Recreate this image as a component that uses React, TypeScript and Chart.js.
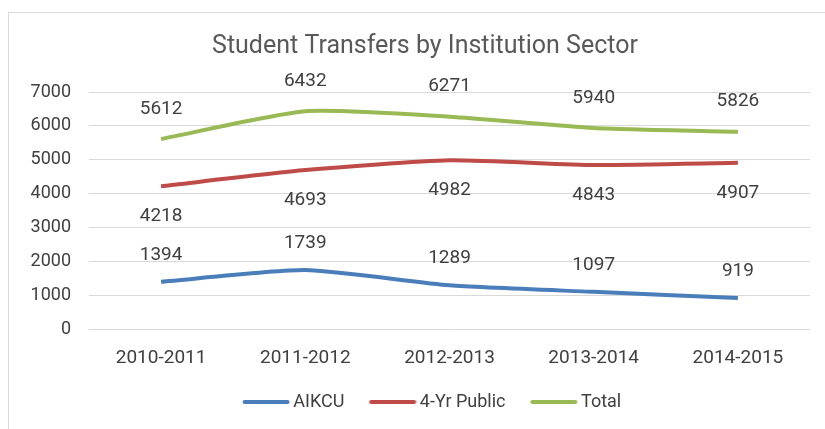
import React, { useEffect, useRef } from "react";
import { Chart, registerables } from "chart.js";

Chart.register(...registerables);

const categories = ["2010-2011", "2011-2012", "2012-2013", "2013-2014", "2014-2015"];
const aikcu = [1394, 1739, 1289, 1097, 919];
const fourYrPublic = [4218, 4693, 4982, 4843, 4907];
const total = [5612, 6432, 6271, 5940, 5826];
const seriesNames = ["AIKCU", "4-Yr Public", "Total"];
const seriesColors = ["#4A7EBB", "#BE4B48", "#98B954"];
const chartTitle = "Student Transfers by Institution Sector";

const FONT = "Roboto, 'Liberation Sans', sans-serif";
const TEXT = "#404040";

function legendLine(color: string) {
  const c = document.createElement("canvas");
  c.width = 67;
  c.height = 6;
  const g = c.getContext("2d")!;
  g.strokeStyle = color;
  g.lineWidth = 4;
  g.lineCap = "round";
  g.beginPath();
  g.moveTo(21.5, 3);
  g.lineTo(64.5, 3);
  g.stroke();
  return c;
}

const labelPlugin = {
  id: "valueLabels",
  afterDatasetsDraw(chart: any) {
    const ctx = chart.ctx;
    ctx.save();
    ctx.font = `19px ${FONT}`;
    ctx.fillStyle = TEXT;
    ctx.textAlign = "center";
    ctx.textBaseline = "middle";
    const offsets = [-27, 30, -30];
    chart.data.datasets.forEach((ds: any, i: number) => {
      const meta = chart.getDatasetMeta(i);
      meta.data.forEach((pt: any, j: number) => {
        ctx.fillText(String(ds.data[j]), pt.x, pt.y + offsets[i]);
      });
    });
    ctx.restore();
  },
};

export default function App() {
  const ref = useRef<HTMLCanvasElement>(null);
  useEffect(() => {
    document.body.style.margin = "0";
    const images = seriesColors.map(legendLine);
    const series = [aikcu, fourYrPublic, total];
    const chart = new Chart(ref.current!, {
      type: "line",
      data: {
        labels: categories,
        datasets: series.map((data, i) => ({
          label: seriesNames[i],
          data,
          borderColor: seriesColors[i],
          backgroundColor: seriesColors[i],
          borderWidth: 4,
          pointRadius: 0,
          tension: 0.2,
          fill: false,
        })),
      },
      options: {
        animation: false,
        responsive: false,
        maintainAspectRatio: false,
        layout: { padding: { left: 0, right: 0, top: 0, bottom: 8 } },
        plugins: {
          title: {
            display: true,
            text: chartTitle,
            color: "#595959",
            font: { family: FONT, size: 25, weight: "normal" },
            padding: { top: 32, bottom: 30 },
          },
          legend: {
            position: "bottom",
            labels: {
              color: TEXT,
              font: { family: FONT, size: 18 },
              usePointStyle: true,
              pointStyleWidth: 55.5,
              boxHeight: 4,
              padding: 11,
              generateLabels(chart: any) {
                const items = (Chart.defaults.plugins.legend.labels as any).generateLabels(chart);
                return items.map((it: any, i: number) => ({ ...it, pointStyle: images[i] }));
              },
            },
          },
          tooltip: { enabled: false },
        },
        scales: {
          x: {
            offset: true,
            grid: { display: false, drawTicks: false, offset: true },
            border: { display: false },
            ticks: { color: TEXT, font: { family: FONT, size: 19 }, padding: 18 },
            afterFit(s: any) { s.height = 53; },
          },
          y: {
            min: 0,
            max: 7000,
            grid: { color: "#D9D9D9", drawTicks: false, lineWidth: 1 },
            border: { display: false },
            ticks: {
              stepSize: 1000,
              color: TEXT,
              font: { family: FONT, size: 18 },
              padding: 18,
              callback: (v: any) => String(v),
            },
            afterFit(s: any) { s.width = 89; },
          },
          yPad: {
            position: "right",
            display: true,
            grid: { display: false, drawTicks: false },
            border: { display: false },
            ticks: { display: false },
            afterFit(s: any) { s.width = 40; },
          },
        },
      },
      plugins: [labelPlugin],
    });
    return () => chart.destroy();
  }, []);
  return (
    <div style={{ position: "relative", width: 825, height: 429, background: "#fff", overflow: "hidden" }}>
      <div style={{ position: "absolute", left: 8, top: 12, width: 830, height: 430, border: "1px solid #D9D9D9", boxSizing: "border-box" }} />
      <canvas ref={ref} width={850} height={429} style={{ position: "absolute", left: 0, top: 0 }} />
    </div>
  );
}
